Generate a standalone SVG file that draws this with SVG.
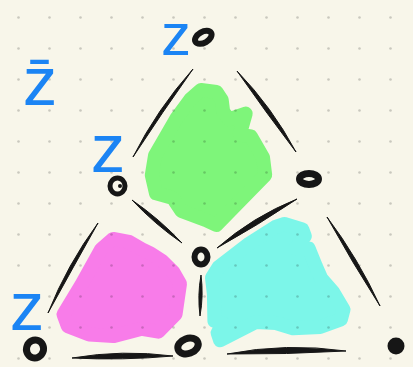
<svg xmlns="http://www.w3.org/2000/svg" width="413" height="367" viewBox="0 0 413 367">
<style>
.blob{stroke-width:14;stroke-linejoin:round}
.ink{fill:#161616;stroke:#161616;stroke-width:1;stroke-linejoin:round}
.ring{fill:none;stroke:#161616}
.lbl{font-family:"Liberation Sans",Arial,sans-serif;font-size:69px;fill:#1b84f4;text-anchor:middle}
</style>
<defs>
<pattern id="dots" x="3" y="2" width="31" height="31" patternUnits="userSpaceOnUse">
<circle cx="15.5" cy="15.5" r="1.3" fill="#000" fill-opacity="0.19"/>
</pattern>
</defs>
<rect width="413" height="367" fill="#f8f6ea"/>
<g id="regions">
<path id="green" class="blob" fill="#7ef57a" stroke="#7ef57a" d="M201,90 L216.4,92 L221.7,99.9 L223.2,111.8 L229,119.3 L245.7,113.5 L239.7,134.6 L250.9,136.5 L263,157.4 L265.2,175.1 L216.3,225 L205.5,220 L181.4,210.9 L172.9,198.1 L156,193.3 L151.8,175.2 L155,155.6 L176.4,118.4 L190.2,99.6 Z"/>
<path id="pink" class="blob" fill="#f87ce9" stroke="#f87ce9" d="M113.2,238.9 L129,241.9 L141.9,249.3 L150.7,253.5 L162.3,261.1 L173.4,272.3 L180,283.8 L175.6,314.1 L158.4,331.7 L141.8,328.8 L113.3,336.1 L89.2,334.4 L67.8,326.1 L63.5,314.3 L81.9,284 L101.2,249.2 Z"/>
<path id="cyan" class="blob" fill="#7cf6e9" stroke="#7cf6e9" d="M284.5,224 L302.4,229.5 L304.8,236.2 L295.3,248.5 L308.7,248.5 L315.8,266.2 L321.1,278.2 L333.1,292.1 L343.5,309.5 L340.9,319.5 L320.2,327 L293,328.3 L275.8,323 L255.8,322.1 L220.1,340.3 L217.6,332.7 L223.8,324 L214.4,320.9 L213.9,294 L212,277.7 L218.7,267 L249.2,243.6 L275.5,227 Z"/>
</g>
<rect width="413" height="367" fill="url(#dots)"/>
<g id="connectors">
<path class="ink" d="M193,69 Q162.2,112.4 133,157 Q157.2,109.1 193,69 Z"/>
<path class="ink" d="M237,71 Q272.2,107.4 296,152 Q265.7,112.1 237,71 Z"/>
<path class="ink" d="M132,200 Q159.3,218.8 182,243 Q154.7,224.2 132,200 Z"/>
<path class="ink" d="M297,199 Q252.8,216.7 217,248 Q258,225.2 297,199 Z"/>
<path class="ink" d="M327,217 Q358.3,258.6 380,306 Q352.1,262.3 327,217 Z"/>
<path class="ink" d="M98,223 Q72.8,267.9 48,313 Q67.2,264.8 98,223 Z"/>
<path class="ink" d="M201,275 Q203.7,295.6 200,316 Q197.3,295.4 201,275 Z"/>
<path class="ink" d="M72,358 Q122.6,360.6 173,356 Q122.3,349.4 72,358 Z"/>
<path class="ink" d="M227,354 Q286.5,354.5 346,351 Q286.3,342.5 227,354 Z"/>
</g>
<g id="v-top"><ellipse class="ring" cx="203.3" cy="37.3" rx="9" ry="5.5" stroke-width="6" transform="rotate(-30 203.3 37.3)"/></g>
<g id="v-left"><ellipse class="ring" cx="117.5" cy="186" rx="7.5" ry="8" stroke-width="5"/><circle cx="120" cy="186" r="2" fill="#161616"/></g>
<g id="v-right"><ellipse class="ring" cx="309" cy="179" rx="9.5" ry="5.5" stroke-width="7"/></g>
<g id="v-center"><ellipse class="ring" cx="201" cy="257" rx="6.5" ry="7.5" stroke-width="6"/></g>
<g id="v-bl"><ellipse class="ring" cx="35" cy="349" rx="8.5" ry="9" stroke-width="7" transform="rotate(20 35 349)"/></g>
<g id="v-bm"><ellipse class="ring" cx="188" cy="346" rx="10.5" ry="7.5" stroke-width="7" transform="rotate(-20 188 346)"/></g>
<g id="v-br"><circle cx="396" cy="346" r="8.5" fill="#161616"/></g>
<g id="labels">
<text class="lbl" x="176" y="55" style="font-size:60px">z</text>
<text class="lbl" x="108" y="172">z</text>
<text class="lbl" x="27" y="330">z</text>
<text class="lbl" x="40" y="105">z̄</text>
</g>
</svg>
